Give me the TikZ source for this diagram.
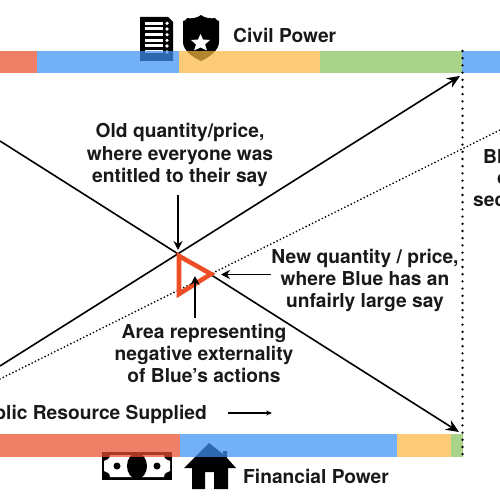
\documentclass[tikz,border=0pt]{standalone}
\usepackage{fontspec}
\setmainfont{TeX Gyre Heros}
\definecolor{barred}{HTML}{EA4E2E}
\definecolor{barblue}{HTML}{3C91F5}
\definecolor{barorange}{HTML}{F9B743}
\definecolor{bargreen}{HTML}{87C25C}
\definecolor{tri}{HTML}{EE4E25}
\usetikzlibrary{arrows.meta}
\tikzset{
  lab/.style={font=\fontsize{19.2}{22.3}\selectfont\bfseries,align=center,text=black!90,inner sep=0pt},
  conn/.style={draw=black,line width=1.6pt,-{Stealth[length=13pt,width=11pt]}},
  thinconn/.style={draw=black,line width=1.1pt,-{Stealth[length=6pt,width=5pt]}},
  dots/.style={draw=black,line width=2.6pt,line cap=round,dash pattern=on 0pt off 7.2pt},
  sdots/.style={draw=black,line width=1.9pt,line cap=round,dash pattern=on 0pt off 3.6pt},
  baru/.style={opacity=.72}
}
\begin{document}
\begin{tikzpicture}[x=1pt,y=-1pt]
\useasboundingbox (0,0) rectangle (500,500);
\clip (0,0) rectangle (500,500);
% icons (behind the bars)
\fill[black] (140,17) -- (168,17) -- (173,22) -- (173,61) -- (140,61) -- cycle;
\foreach \yy in {23.3,29,34.7,40.4,46,52}{
  \fill[white] (145,\yy-1.5) rectangle (163,\yy+1.5);
  \fill[white] (167,\yy) circle (1.8);
}
\fill[black] (201,15) .. controls (204,18) and (212,19) .. (215,18)
  .. controls (216,20) and (218,21) .. (219,21) -- (219,42)
  .. controls (219,50) and (210,57) .. (201,61)
  .. controls (192,57) and (183,50) .. (183,42) -- (183,21)
  .. controls (185,21) and (186,20) .. (187,18)
  .. controls (190,19) and (198,18) .. (201,15) -- cycle;
\fill[white] (200.5,34) -- (203,39.5) -- (210,40) -- (205,44.5) -- (207,50.5) -- (200.5,47.5) -- (194,50.5) -- (196,44.5) -- (191,40) -- (198,39.5) -- cycle;
% banknote
\fill[black] (102,452) rectangle (172,480);
\fill[white] (110,455) -- (164,455) .. controls (164,459) and (167,460) .. (170,461) -- (170,471)
  .. controls (167,472) and (164,473) .. (164,477) -- (110,477)
  .. controls (110,473) and (107,472) .. (104,471) -- (104,461)
  .. controls (107,460) and (110,459) .. (110,455) -- cycle;
\fill[black] (137,466) ellipse (10 and 13);
\fill[black] (117,466) circle (3.5);
\fill[black] (157,466) circle (3.5);
% house
\fill[black] (209,443) -- (223,454) -- (223,451) -- (227,451) -- (227,458) -- (236,468) -- (228,468) -- (228,489) -- (214,489) -- (214,472) -- (205,472) -- (205,489) -- (192,489) -- (192,468) -- (184,468) -- cycle;
% bars
\fill[barred,baru] (0,51) rectangle (37,73);
\fill[barblue,baru] (37,51) rectangle (179,73);
\fill[barorange,baru] (179,51) rectangle (320,73);
\fill[bargreen,baru] (320,51) rectangle (462,73);
\fill[barblue,baru] (462,51) rectangle (500,73);
\fill[barred,baru] (0,434) rectangle (180,457);
\fill[barblue,baru] (180,434) rectangle (397,457);
\fill[barorange,baru] (397,434) rectangle (451,457);
\fill[bargreen,baru] (451,434) rectangle (463,457);
% named points
\coordinate (dl) at (0,141);
\coordinate (dr) at (459,432);
\coordinate (ul) at (0,366);
\coordinate (ur) at (460,76);
\coordinate (sl) at (0,379);
\coordinate (sr) at (500,130);
\coordinate (vt) at (462.5,51);
\coordinate (vb) at (462.5,456);
% lines
\draw[conn] (dl) -- (dr);
\draw[conn] (ul) -- (ur);
\draw[sdots] (sl) -- (sr);
\draw[dots] (vt) -- (vb);
% triangle
\node[inner sep=0pt] (ta) at (179,256) {};
\node[inner sep=0pt] (tb) at (211,274) {};
\node[inner sep=0pt] (tc) at (179,294) {};
\draw[tri,line width=4.6pt,line join=miter] (ta.center) -- (tb.center) -- (tc.center) -- cycle;
% labels
\node[lab] (old) at (180,155) {Old quantity/price,\\where everyone was\\entitled to their say};
\node[lab] (new) at (365,280.5) {New quantity / price,\\where Blue has an\\unfairly large say};
\node[lab] (area) at (204,353.5) {Area representing\\negative externality\\of Blue’s actions};
\node[lab,anchor=west] (civil) at (233,35) {Civil Power};
\node[lab,anchor=west] (fin) at (243,476) {Financial Power};
\node[lab,anchor=east] (pub) at (207,414) {Public Resource Supplied};
\node[lab,anchor=west] (r1) at (483,157) {Bl};
\node[lab,anchor=west] (r2) at (497,179) {c};
\node[lab,anchor=west] (r3) at (473,201) {sec};
% arrows
\coordinate (a1) at (178,195);
\coordinate (a1t) at (178,250);
\coordinate (a2) at (271,274.5);
\coordinate (a2t) at (221,274.5);
\coordinate (a3) at (195,318);
\coordinate (a3t) at (195,276);
\coordinate (a4) at (228,413);
\coordinate (a4t) at (272,413);
\draw[conn,-{Stealth[length=9pt,width=9pt]}] (a1) -- (a1t);
\draw[conn,-{Stealth[length=9pt,width=9pt]}] (a2) -- (a2t);
\draw[conn,-{Stealth[length=9pt,width=9pt]}] (a3) -- (a3t);
\draw[thinconn] (a4) -- (a4t);
\end{tikzpicture}
\end{document}
